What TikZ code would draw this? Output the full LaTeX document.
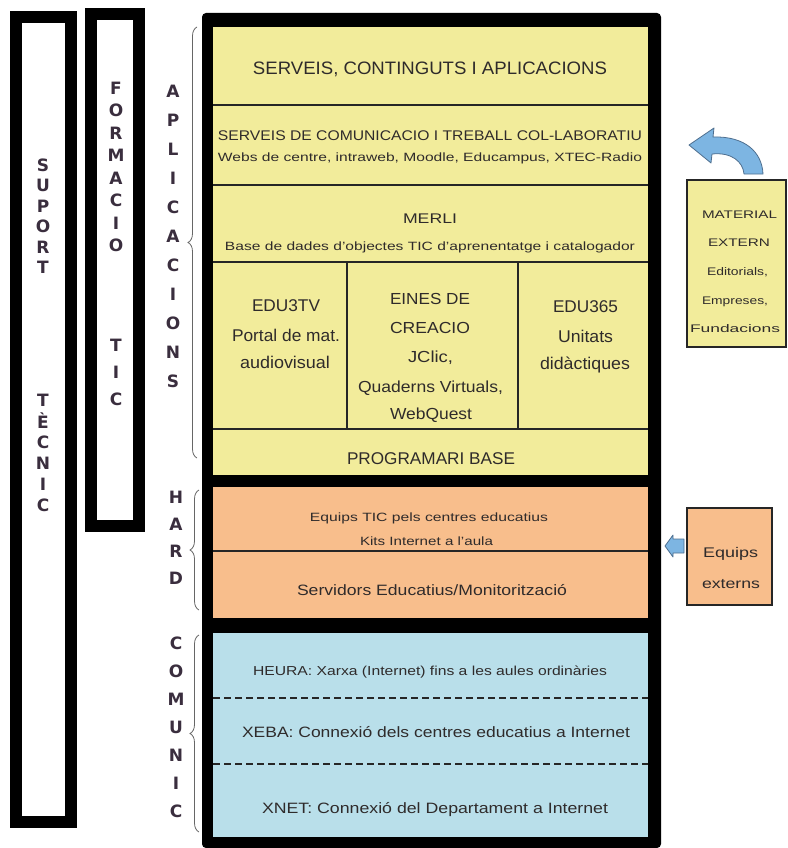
\documentclass[tikz,border=0pt]{standalone}
\usepackage{fontspec}
\usepackage{graphicx}
\setmainfont{Liberation Sans}
\newfontfamily\vfont{DejaVu Sans}
\usetikzlibrary{decorations.pathreplacing}
\definecolor{cyel}{HTML}{F2EC9B}
\definecolor{cora}{HTML}{F8BE8C}
\definecolor{cblu}{HTML}{B9DFEA}
\definecolor{ctxt}{HTML}{2F2B2B}
\definecolor{cvl}{HTML}{3A2E3E}
\definecolor{carr}{HTML}{7DB5E2}
\definecolor{carrl}{HTML}{4F6F8F}
\newcommand{\fw}[3]{\resizebox{#1pt}{\height}{\fontsize{#2}{#2}\selectfont #3}}
\newcommand{\T}[6]{\node[txt] (#1) at (#2,{#3+0.36*#5}) {\fw{#4}{#5}{#6}};}
\begin{document}
\begin{tikzpicture}[x=1pt,y=-1pt,
  txt/.style={inner sep=0pt,text=ctxt,anchor=base},
  vl/.style={inner sep=0pt,text=cvl,font=\vfont\bfseries\fontsize{17}{17}\selectfont},
  frame/.style={draw=black,line width=12pt},
  cell/.style={draw=black!85,line width=1.2pt},
  dsh/.style={draw=black!85,line width=1.3pt,dash pattern=on 7pt off 4pt},
  brc/.style={draw=black!60,line width=0.8pt,decorate,decoration={brace,amplitude=9pt}},
  blockarrow/.style={fill=carr,draw=carrl,line width=0.8pt,line join=round}]
\useasboundingbox (0,0) rectangle (787,848);
% left frames
\draw[frame] (16,17) rectangle (71,822);
\draw[frame] (90.5,14) rectangle (139,526);
\foreach \c [count=\i] in {S,U,P,O,R,T}
  \node[vl] (sa\i) at (43,{165+(\i-1)*20.5}) {\c};
\foreach \c [count=\i] in {T,È,C,N,I,C}
  \node[vl] (sb\i) at (43,{400+(\i-1)*21}) {\c};
\foreach \c [count=\i] in {F,O,R,M,A,C,I,O}
  \node[vl] (fa\i) at (116,{88+(\i-1)*22.5}) {\c};
\foreach \c [count=\i] in {T,I,C}
  \node[vl] (fb\i) at (116,{345+(\i-1)*27}) {\c};
\foreach \c [count=\i] in {A,P,L,I,C,A,C,I,O,N,S}
  \node[vl] (ap\i) at (173,{91+(\i-1)*29}) {\c};
\foreach \c [count=\i] in {H,A,R,D}
  \node[vl] (hd\i) at (176,{497+(\i-1)*27}) {\c};
\foreach \c [count=\i] in {C,O,M,U,N,I,C}
  \node[vl] (cm\i) at (176,{643+(\i-1)*28}) {\c};
% braces
\draw[brc] (197,458) -- (197,27);
\draw[brc] (199,610) -- (199,490);
\draw[brc] (199,832) -- (199,635);
% main block
\fill[black,rounded corners=4pt] (202,13) rectangle (661,848);
\fill[cyel] (213,27) rectangle (648,475);
\fill[cora] (213,487) rectangle (648,618);
\fill[cblu] (213,633) rectangle (648,837);
\draw[cell] (213,105) -- (648,105);
\draw[cell] (213,185) -- (648,185);
\draw[cell] (213,262) -- (648,262);
\draw[cell] (213,429) -- (648,429);
\draw[cell] (347,262) -- (347,429);
\draw[cell] (518,262) -- (518,429);
\draw[cell] (213,551) -- (648,551);
\draw[dsh] (213,698) -- (648,698);
\draw[dsh] (213,764) -- (648,764);
% texts
\T{t1}{430}{68}{354}{18}{SERVEIS, CONTINGUTS I APLICACIONS}
\T{t2}{430}{135}{424}{14}{SERVEIS DE COMUNICACIO I TREBALL COL-LABORATIU}
\T{t3}{430}{157.5}{424}{12}{Webs de centre, intraweb, Moodle, Educampus, XTEC-Radio}
\T{t4}{430}{218}{54}{14}{MERLI}
\T{t5}{430}{246}{410}{12}{Base de dades d'objectes TIC d'aprenentatge i catalogador}
\T{e1}{286}{305}{68}{17}{EDU3TV}
\T{e2}{286}{335}{108}{17}{Portal de mat.}
\T{e3}{285}{362}{90}{17}{audiovisual}
\T{c1}{430}{299}{80}{16}{EINES DE}
\T{c2}{430}{328}{80}{16}{CREACIO}
\T{c3}{430.5}{357}{45}{16}{JClic,}
\T{c4}{430.5}{387}{145}{16}{Quaderns Virtuals,}
\T{c5}{431}{414}{82}{16}{WebQuest}
\T{d1}{585.5}{306}{65}{17}{EDU365}
\T{d2}{585.5}{336}{55}{17}{Unitats}
\T{d3}{585}{363}{90}{17}{didàctiques}
\T{pb}{431}{458}{168}{17}{PROGRAMARI BASE}
\T{h1}{429}{517}{238}{12}{Equips TIC pels centres educatius}
\T{h2}{426.5}{541}{133}{12}{Kits Internet a l'aula}
\T{h3}{432}{590}{270}{15}{Servidors Educatius/Monitorització}
\T{n1}{430}{671}{354}{13}{HEURA: Xarxa (Internet) fins a les aules ordinàries}
\T{n2}{436}{732}{388}{15}{XEBA: Connexió dels centres educatius a Internet}
\T{n3}{435}{808}{346}{15}{XNET: Connexió del Departament a Internet}
% right boxes
\draw[cell,fill=cyel] (687,180) rectangle (786,347);
\T{m1}{739.5}{215}{75}{11}{MATERIAL}
\T{m2}{739}{243}{62}{11}{EXTERN}
\T{m3}{737.5}{272}{61}{11}{Editorials,}
\T{m4}{735}{301}{66}{11}{Empreses,}
\T{m5}{735}{329}{90}{11}{Fundacions}
\draw[cell,fill=cora] (687,508) rectangle (772,605);
\T{q1}{730.5}{552}{55}{14}{Equips}
\T{q2}{731}{583}{58}{14}{externs}
% block arrows
\path[blockarrow] (689,145) -- (714,128) -- (713,137)
  .. controls (745,136) and (762,152) .. (763,174) -- (744,174)
  .. controls (743,162) and (732,152) .. (712,154) -- (711,163) -- cycle;
\path[blockarrow] (665,546) -- (673,535) -- (673,539) -- (684,539)
  -- (684,553) -- (673,553) -- (673,557) -- cycle;
\end{tikzpicture}
\end{document}
